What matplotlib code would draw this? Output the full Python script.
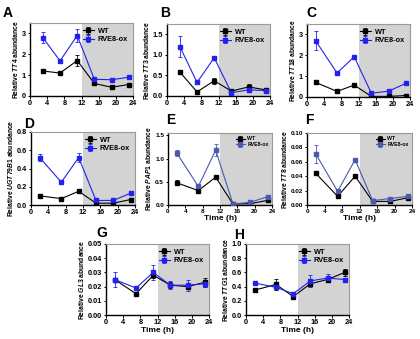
import numpy as np
import matplotlib
matplotlib.use('Agg')
import matplotlib.pyplot as plt

plt.rcParams['font.family'] = ['Liberation Sans', 'DejaVu Sans']
plt.rcParams['mathtext.fontset'] = 'custom'
plt.rcParams['mathtext.it'] = 'Liberation Sans:bold:italic'
plt.rcParams['mathtext.rm'] = 'Liberation Sans:bold'

W, H = 420, 339

# sampling times
t_a = [3, 7, 11, 15, 19, 23]
t_c = [2, 7, 11, 15, 19, 23]

genes = ['TT4', 'TT3', 'TT18', 'UGT79B1', 'PAP1', 'TT8', 'GL3', 'TTG1']
letters = ['A', 'B', 'C', 'D', 'E', 'F', 'G', 'H']

wt_tt4 = [1.2, 1.1, 1.7, 0.6, 0.42, 0.55]
wt_tt4_err = [0.03, 0.05, 0.25, 0.03, 0.03, 0.04]
ox_tt4 = [2.8, 1.68, 2.9, 0.8, 0.78, 0.9]
ox_tt4_err = [0.25, 0.08, 0.3, 0.04, 0.03, 0.06]

wt_tt3 = [0.58, 0.1, 0.37, 0.12, 0.22, 0.15]
wt_tt3_err = [0.04, 0.02, 0.07, 0.02, 0.07, 0.03]
ox_tt3 = [1.2, 0.33, 0.93, 0.08, 0.15, 0.13]
ox_tt3_err = [0.25, 0.03, 0.03, 0.02, 0.03, 0.02]

wt_tt18 = [0.7, 0.27, 0.57, 0.03, 0.03, 0.07]
wt_tt18_err = [0.03, 0.02, 0.03, 0.01, 0.01, 0.01]
ox_tt18 = [2.7, 1.15, 1.93, 0.18, 0.28, 0.65]
ox_tt18_err = [0.45, 0.05, 0.05, 0.02, 0.02, 0.04]

wt_ugt = [0.1, 0.07, 0.15, 0.02, 0.02, 0.06]
wt_ugt_err = [0.005, 0.005, 0.01, 0.003, 0.003, 0.005]
ox_ugt = [0.52, 0.25, 0.52, 0.05, 0.05, 0.13]
ox_ugt_err = [0.04, 0.01, 0.05, 0.005, 0.005, 0.01]

wt_pap1 = [0.48, 0.31, 0.6, 0.02, 0.03, 0.1]
wt_pap1_err = [0.05, 0.02, 0.03, 0.005, 0.005, 0.01]
ox_pap1 = [1.12, 0.4, 1.18, 0.02, 0.06, 0.18]
ox_pap1_err = [0.07, 0.02, 0.13, 0.005, 0.01, 0.01]

wt_tt8 = [0.044, 0.012, 0.04, 0.005, 0.005, 0.01]
wt_tt8_err = [0.002, 0.001, 0.002, 0.0005, 0.0005, 0.001]
ox_tt8 = [0.071, 0.019, 0.063, 0.006, 0.009, 0.012]
ox_tt8_err = [0.012, 0.001, 0.001, 0.0005, 0.001, 0.001]

wt_gl3 = [0.025, 0.015, 0.028, 0.021, 0.02, 0.023]
wt_gl3_err = [0.001, 0.001, 0.002, 0.002, 0.001, 0.003]
ox_gl3 = [0.025, 0.019, 0.03, 0.021, 0.021, 0.022]
ox_gl3_err = [0.005, 0.001, 0.005, 0.003, 0.004, 0.002]

wt_ttg1 = [0.35, 0.43, 0.26, 0.44, 0.5, 0.6]
wt_ttg1_err = [0.02, 0.08, 0.02, 0.03, 0.02, 0.05]
ox_ttg1 = [0.45, 0.39, 0.3, 0.48, 0.52, 0.5]
ox_ttg1_err = [0.01, 0.03, 0.02, 0.08, 0.06, 0.02]

times = [t_a, t_a, t_c, t_c, t_c, t_c, t_c, t_c]
wt_vals = [wt_tt4, wt_tt3, wt_tt18, wt_ugt, wt_pap1, wt_tt8, wt_gl3, wt_ttg1]
wt_errs = [wt_tt4_err, wt_tt3_err, wt_tt18_err, wt_ugt_err, wt_pap1_err, wt_tt8_err, wt_gl3_err, wt_ttg1_err]
ox_vals = [ox_tt4, ox_tt3, ox_tt18, ox_ugt, ox_pap1, ox_tt8, ox_gl3, ox_ttg1]
ox_errs = [ox_tt4_err, ox_tt3_err, ox_tt18_err, ox_ugt_err, ox_pap1_err, ox_tt8_err, ox_gl3_err, ox_ttg1_err]

ylims = [3.5, 1.75, 3.5, 0.8, 1.55, 0.1, 0.05, 1.0]
yticks = [[0, 1, 2, 3], [0, 0.5, 1.0, 1.5], [0, 1, 2, 3], [0, 0.2, 0.4, 0.6, 0.8],
          [0, 0.5, 1.0, 1.5], [0, 0.02, 0.04, 0.06, 0.08, 0.10],
          [0, 0.01, 0.02, 0.03, 0.04, 0.05], [0, 0.2, 0.4, 0.6, 0.8, 1.0]]
yfmt = ['{:.0f}', '{:.1f}', '{:.0f}', '{:.1f}', '{:.1f}', '{:.2f}', '{:.2f}', '{:.1f}']

# axes boxes in pixels (left, top, right, bottom)
boxes = [(30, 23, 133, 96), (167, 24, 270, 96), (307, 24, 410, 97),
         (31, 132, 135, 205), (168, 133, 272, 205), (307, 133, 412, 205),
         (106, 244, 209, 315), (246, 244, 349, 315)]
letter_pos = [(3, 13), (160, 13), (306, 13), (24, 124), (166, 120), (305, 120),
              (96, 233), (234, 235)]

fig = plt.figure(figsize=(W / 100, H / 100), dpi=100)
fig.patch.set_facecolor('white')

for i in range(8):
    l, t, r, b = boxes[i]
    ax = fig.add_axes([l / W, 1 - b / H, (r - l) / W, (b - t) / H])
    ax.axvspan(12, 24, color='#d3d3d3', zorder=0, lw=0)
    alt = i in (4, 5)
    blue = '#4a5ab0' if alt else '#2222ee'
    ms = 2.6
    ax.errorbar(times[i], wt_vals[i], yerr=wt_errs[i], color='black', marker='s', ms=ms,
                lw=0.8, capsize=1.3, elinewidth=0.6, capthick=0.6, label='WT', zorder=3)
    ax.errorbar(times[i], ox_vals[i], yerr=ox_errs[i], color=blue, marker='s', ms=ms,
                lw=0.8, capsize=1.3, elinewidth=0.6, capthick=0.6, label='RVE8-ox', zorder=3)
    ax.set_xlim(0, 24)
    ax.set_ylim(0, ylims[i])
    ax.set_xticks(range(0, 25, 4))
    ax.set_yticks(yticks[i])
    ax.set_yticklabels([yfmt[i].format(v) for v in yticks[i]])
    ts = 4.6 if alt else 5.3
    ax.tick_params(labelsize=ts, length=1.8, width=0.7, pad=1)
    for lab in ax.get_xticklabels() + ax.get_yticklabels():
        lab.set_fontweight('bold')
    for s in ['left', 'bottom']:
        ax.spines[s].set_linewidth(1.0)
    for s in ['top', 'right']:
        ax.spines[s].set_color('#9a9a9a')
        ax.spines[s].set_linewidth(0.8)
    ax.set_ylabel(r'Relative $\it{' + genes[i] + r'}$ abundance', fontsize=4.9,
                  fontweight='bold', labelpad=1.5)
    if i >= 4:
        ax.set_xlabel('Time (h)', fontsize=6, fontweight='bold', labelpad=1)
    fs = 3.8 if alt else 5.3
    ax.legend(loc='upper right', frameon=False, handlelength=1.6,
              borderaxespad=0.25, labelspacing=0.15, handletextpad=0.5,
              prop={'weight': 'bold', 'size': fs})
    lx, ly = letter_pos[i]
    fig.text(lx / W, 1 - ly / H, letters[i], fontsize=10, fontweight='bold',
             ha='left', va='center')

fig.savefig('out.png', dpi=100)
